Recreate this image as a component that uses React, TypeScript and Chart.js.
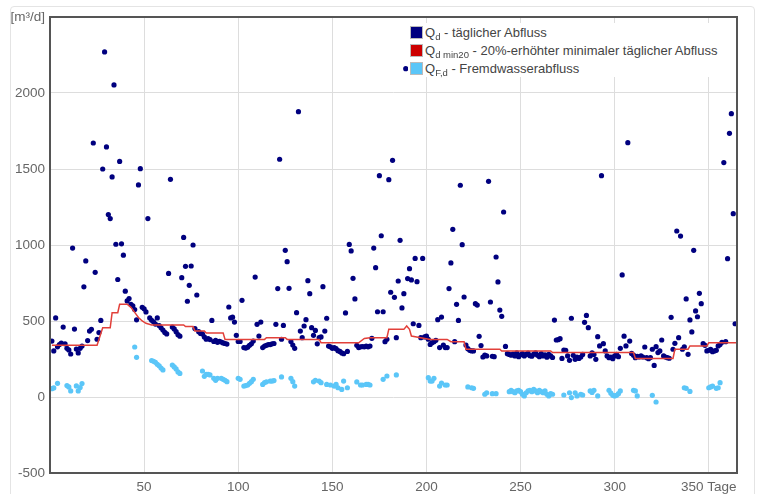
import React, { useEffect, useRef } from "react";
import { Chart, registerables } from "chart.js";

Chart.register(...registerables);

// Q_d – daily discharge, one value per day (day 1..365)
const QD_DAILY: number[] = [
  368, 303, 520, 330, 345, 355, 460, 350, 320, 310,
  283, 980, 447, 315, 290, 320, 335, 725, 895, 371,
  434, 445, 1671, 820, 380, 424, 504, 1500, 2270, 1645,
  1200, 1174, 1448, 2053, 1005, 773, 1550, 1008, 933, 696,
  632, 648, 610, 600, 575, 508, 1395, 1502, 590, 580,
  560, 1174, 520, 505, 495, 480, 520, 470, 455, 440,
  425, 415, 813, 1432, 460, 448, 430, 410, 400, 785,
  1050, 860, 630, 735, 862, 1000, 450, 671, 430, 418,
  415, 395, 380, 385, 378, 504, 365, 372, 360, 366,
  362, 356, 352, 348, 592, 520, 525, 493, 406, 365,
  365, 636, 325, 322, 328, 340, 350, 368, 789, 478,
  401, 493, 325, 335, 340, 345, 345, 350, 352, 478,
  713, 1564, 380, 471, 965, 890, 715, 365, 342, 320,
  555, 1877, 434, 390, 467, 509, 765, 680, 456, 406,
  438, 350, 390, 395, 726, 434, 518, 335, 330, 320,
  325, 318, 305, 300, 290, 285, 553, 300, 1004, 961,
  781, 645, 340, 325, 330, 332, 330, 335, 330, 335,
  386, 980, 851, 561, 1456, 1061, 561, 364, 380, 1430,
  689, 1557, 656, 390, 763, 1031, 586, 680, 2160, 779,
  844, 770, 482, 912, 759, 471, 390, 912, 395, 400,
  380, 346, 357, 364, 373, 509, 325, 526, 342, 325,
  325, 713, 882, 1103, 364, 610, 504, 1393, 1002, 658,
  342, 318, 307, 303, 303, 614, 605, 399, 338, 263,
  276, 270, 1419, 625, 268, 265, 921, 757, 572, 531,
  1217, 333, 285, 280, 275, 282, 270, 290, 265, 278,
  285, 270, 280, 288, 272, 268, 282, 290, 275, 265,
  285, 270, 278, 262, 280, 270, 260, 506, 375, 377,
  384, 254, 309, 307, 270, 241, 518, 274, 248, 262,
  254, 263, 280, 491, 537, 456, 270, 290, 280, 248,
  397, 336, 1456, 351, 303, 270, 259, 262, 252, 270,
  281, 265, 320, 803, 400, 336, 1673, 368, 287, 275,
  259, 268, 263, 270, 263, 329, 259, 252, 260, 314,
  208, 331, 292, 303, 375, 270, 263, 259, 255, 524,
  314, 353, 1092, 390, 1059, 314, 330, 645, 281, 507,
  428, 965, 566, 528, 682, 614, 351, 340, 303, 307,
  314, 298, 303, 307, 336, 345, 360, 1542, 364, 910,
  1735, 1864, 1206, 482,
];

// Q_F,d – infiltration water (only on dry days)
const QF_DAYS: number[] = [
  1, 2, 4, 9, 10, 11, 14, 15, 16, 17,
  45, 46,
  54, 55, 56, 57, 58, 59, 60,
  65, 66, 67, 68, 69,
  81, 82, 83, 84, 85, 87, 88, 89, 91, 92, 93, 94,
  100, 101, 103, 104, 105, 106, 107, 108,
  113, 114, 115, 117, 118, 119, 123, 128, 129, 130,
  140, 141, 143, 144, 147, 149, 151, 152, 153, 155, 156, 158,
  163, 165, 166, 168, 169, 170, 177, 179, 184,
  201, 202, 203, 204, 207, 208, 210, 211,
  222, 224, 225, 231, 232, 235, 237,
  244, 245, 246, 247, 248, 249, 250, 251, 252, 253, 254, 255,
  256, 257, 258, 259, 260, 261, 262, 263, 264, 265, 266, 267,
  273, 276, 277, 279, 280, 282, 283,
  287, 288, 289, 291,
  297, 298, 299, 300, 301, 302, 303,
  310, 311, 312, 320, 322,
  337, 338, 340,
  350, 351, 352, 354, 355, 356,
];
const QF_VALUES: number[] = [
  55, 60, 90, 75, 66, 40, 73, 40, 62, 88,
  329, 261,
  240, 235, 228, 215, 205, 190, 178,
  210, 198, 185, 165, 155,
  171, 136, 149, 149, 145, 123, 110, 123, 123, 116, 110, 101,
  123, 116, 72, 75, 79, 90, 101, 116,
  83, 95, 100, 105, 105, 108, 132, 123, 101, 72,
  100, 110, 105, 94, 83, 79, 72, 83, 61, 50, 105, 61,
  99, 79, 79, 83, 83, 79, 116, 138, 145,
  127, 105, 105, 123, 72, 92, 79, 79,
  66, 61, 57, 18, 28, 22, 22,
  35, 44, 35, 28, 40, 44, 35, 18, 7, 28, 40, 44,
  35, 50, 40, 28, 44, 35, 28, 40, 18, 7, 22, 18,
  13, 28, -4, 28, 7, 18, 13,
  40, 30, 44, 7,
  44, 25, 11, 7, 11, 22, 40,
  44, 40, 7, 11, -33,
  61, 57, 37,
  61, 66, 72, 57, 61, 94,
];

// Q_d min20 – 20 % raised minimal daily discharge (step line)
const QMIN_DAYS: number[] = [
  1, 25, 28, 32, 33, 36, 37, 41, 43, 45, 47, 49, 51, 54, 71, 72, 76, 77, 82, 83,
  92, 93, 114, 115, 125, 126, 143, 144, 164, 167, 170, 179, 180, 188, 189.5, 191,
  192, 197, 202, 211, 213, 220, 221, 239, 240, 266, 267, 310, 311, 331, 332, 339,
  340, 349, 350, 365,
];
const QMIN_VALUES: number[] = [
  340, 340, 456, 456, 555, 555, 610, 610, 590, 557, 523, 500, 485, 474, 474, 463, 463, 434, 434, 421,
  421, 379, 379, 390, 390, 379, 379, 357, 357, 385, 390, 390, 445, 445, 467, 445,
  401, 390, 379, 379, 364, 364, 314, 314, 303, 303, 292, 292, 254, 254, 314, 314,
  336, 336, 357, 357,
];

const X_TICKS = [50, 100, 150, 200, 250, 300, 350];
const Y_TICKS = [-500, 0, 500, 1000, 1500, 2000, 2500];
const X_UNIT = "Tage";
const Y_UNIT = "[m³/d]";

const LEGEND_SUBS = ["d", "d min20", "F,d"];
const LEGEND_TEXTS = [
  " - täglicher Abfluss",
  " - 20%-erhöhter minimaler täglicher Abfluss",
  " - Fremdwasserabfluss",
];
const LEGEND_COLORS = ["#00007f", "#cc0000", "#5bc6f8"];

const FONT = '"Liberation Sans", Arial, sans-serif';

export default function App() {
  const ref = useRef<HTMLCanvasElement>(null);

  useEffect(() => {
    const framePlugin = {
      id: "frame",
      afterDatasetsDraw(chart: any) {
        const { ctx, chartArea: a } = chart;
        ctx.save();
        ctx.strokeStyle = "#555";
        ctx.lineWidth = 2;
        ctx.strokeRect(a.left, a.top, a.right - a.left, a.bottom - a.top);
        ctx.restore();
      },
    };

    const chart = new Chart(ref.current as HTMLCanvasElement, {
      type: "scatter",
      data: {
        datasets: [
          {
            type: "line",
            label: "Qd min20",
            data: QMIN_DAYS.map((x, i) => ({ x, y: QMIN_VALUES[i] })),
            borderColor: "#e2403a",
            borderWidth: 1.5,
            pointRadius: 0,
            fill: false,
            tension: 0,
            order: 0,
          } as any,
          {
            label: "Qd",
            data: QD_DAILY.map((y, i) => ({ x: i + 1, y })),
            backgroundColor: "#00007f",
            borderWidth: 0,
            pointRadius: 2.6,
            order: 1,
          },
          {
            label: "QF,d",
            data: QF_DAYS.map((x, i) => ({ x, y: QF_VALUES[i] })),
            backgroundColor: "#5bc6f8",
            borderWidth: 0,
            pointRadius: 2.6,
            order: 2,
          },
        ],
      },
      options: {
        animation: false,
        responsive: false,
        layout: { padding: { top: 17, right: 26, left: 0, bottom: 0 } },
        plugins: { legend: { display: false }, tooltip: { enabled: false } },
        scales: {
          x: {
            type: "linear",
            min: 0,
            max: 365,
            afterFit: (s: any) => {
              s.height = 21;
            },
            afterBuildTicks: (s: any) => {
              s.ticks = X_TICKS.map((v) => ({ value: v }));
            },
            grid: { color: "#dddddd", drawTicks: false },
            border: { display: false },
            ticks: {
              padding: 6,
              color: "#666",
              autoSkip: false,
              maxRotation: 0,
              font: { family: FONT, size: 13.5 },
              callback: (v: any) => (v === 350 ? `350 ${X_UNIT}` : String(v)),
            },
          },
          y: {
            type: "linear",
            min: -500,
            max: 2500,
            afterFit: (s: any) => {
              s.width = 50;
            },
            afterBuildTicks: (s: any) => {
              s.ticks = Y_TICKS.map((v) => ({ value: v }));
            },
            grid: { color: "#dddddd", drawTicks: false },
            border: { display: false },
            ticks: {
              padding: 5,
              color: "#666",
              autoSkip: false,
              font: { family: FONT, size: 13.5 },
              callback: (v: any) => (v === 2500 ? Y_UNIT : String(v)),
            },
          },
        },
      },
      plugins: [framePlugin],
    });
    return () => chart.destroy();
  }, []);

  return (
    <div style={{ position: "fixed", left: 0, top: 0, width: 763, height: 494, background: "#fff", overflow: "hidden" }}>
      <div
        style={{
          position: "absolute",
          left: 10,
          top: 6,
          width: 745,
          height: 520,
          border: "1px solid #e4e4e4",
          borderRadius: 4,
          boxSizing: "border-box",
        }}
      />
      <canvas ref={ref} width={763} height={494} style={{ position: "absolute", left: 0, top: 0, display: "block" }} />
      <div
        style={{
          position: "absolute",
          left: 408,
          top: 23,
          width: 326,
          height: 54,
          background: "#fff",
          fontFamily: FONT,
          fontSize: 13,
          color: "#444",
        }}
      >
        {LEGEND_TEXTS.map((t, i) => (
          <div key={i} style={{ height: 18, display: "flex", alignItems: "center", whiteSpace: "nowrap" }}>
            <span
              style={{
                display: "inline-block",
                width: 11,
                height: 11,
                marginLeft: 2,
                marginRight: 2,
                background: LEGEND_COLORS[i],
                border: "1px solid #bbb",
              }}
            />
            <span>
              Q
              <span style={{ fontSize: 9.5, position: "relative", top: 3 }}>{LEGEND_SUBS[i]}</span>
              {t}
            </span>
          </div>
        ))}
      </div>
    </div>
  );
}
